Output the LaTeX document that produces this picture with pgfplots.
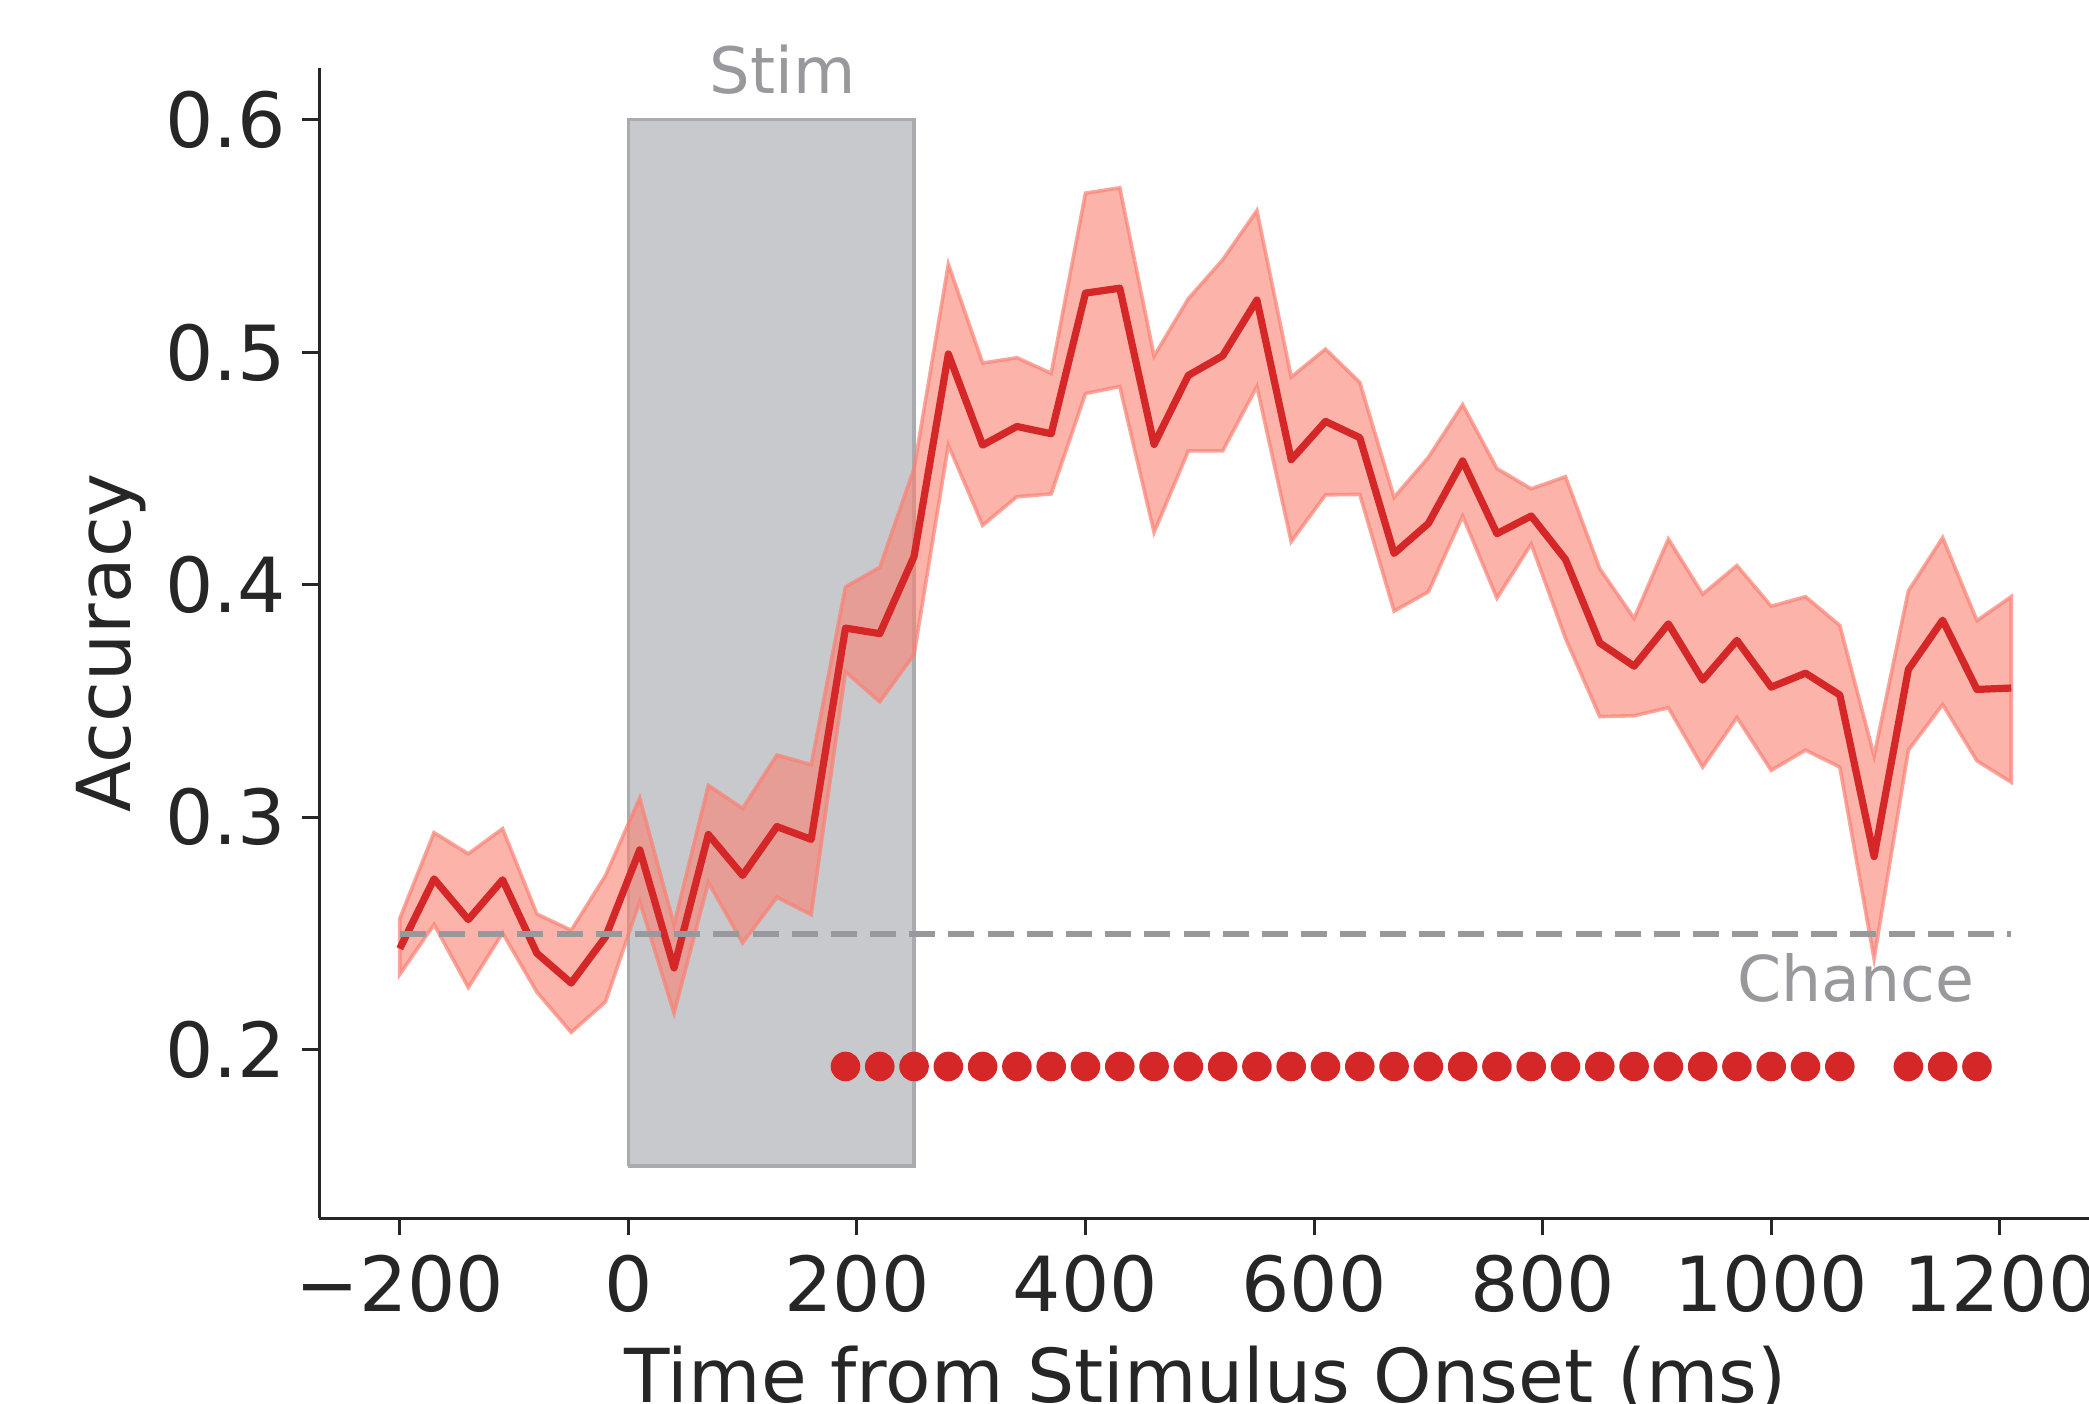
\documentclass[border=0pt]{standalone}
\usepackage{fontspec}
\setmainfont{DejaVu Sans}
\usepackage{pgfplots}
\pgfplotsset{compat=1.18}
\usepgfplotslibrary{fillbetween}
\usepackage{pgfplotstable}
\definecolor{txt}{RGB}{38,38,38}
\definecolor{accred}{RGB}{214,39,40}
\definecolor{ci}{RGB}{250,128,114}
\definecolor{stimfill}{RGB}{200,201,204}
\definecolor{stimedge}{RGB}{170,171,174}
\definecolor{annot}{RGB}{152,152,157}

\pgfplotstableread{
t mean lo hi
-200 0.2435 0.2324 0.2564
-170 0.2735 0.2539 0.2934
-140 0.2560 0.2268 0.2843
-110 0.2731 0.2502 0.2951
-80 0.2415 0.2248 0.2584
-50 0.2287 0.2075 0.2514
-20 0.2485 0.2206 0.2749
10 0.2860 0.2638 0.3083
40 0.2352 0.2157 0.2539
70 0.2926 0.2720 0.3137
100 0.2750 0.2460 0.3038
130 0.2960 0.2656 0.3268
160 0.2905 0.2581 0.3226
190 0.3814 0.3626 0.3991
220 0.3790 0.3497 0.4075
250 0.4122 0.3700 0.4500
280 0.4993 0.4601 0.5379
310 0.4601 0.4256 0.4954
340 0.4681 0.4379 0.4977
370 0.4650 0.4391 0.4910
400 0.5255 0.4823 0.5685
430 0.5276 0.4853 0.5708
460 0.4604 0.4226 0.4984
490 0.4901 0.4576 0.5231
520 0.4985 0.4576 0.5398
550 0.5225 0.4853 0.5610
580 0.4538 0.4186 0.4894
610 0.4703 0.4387 0.5014
640 0.4633 0.4389 0.4871
670 0.4135 0.3887 0.4376
700 0.4264 0.3970 0.4548
730 0.4533 0.4296 0.4775
760 0.4220 0.3943 0.4500
790 0.4296 0.4176 0.4413
820 0.4109 0.3770 0.4465
850 0.3750 0.3433 0.4069
880 0.3650 0.3437 0.3856
910 0.3832 0.3471 0.4197
940 0.3590 0.3216 0.3960
970 0.3761 0.3429 0.4083
1000 0.3560 0.3202 0.3908
1030 0.3620 0.3289 0.3949
1060 0.3526 0.3216 0.3825
1090 0.2831 0.2391 0.3264
1120 0.3636 0.3289 0.3974
1150 0.3848 0.3485 0.4203
1180 0.3550 0.3243 0.3846
1210 0.3556 0.3151 0.3949
}\acc

\pgfplotstableread{
t y
190 0.1928
220 0.1928
250 0.1928
280 0.1928
310 0.1928
340 0.1928
370 0.1928
400 0.1928
430 0.1928
460 0.1928
490 0.1928
520 0.1928
550 0.1928
580 0.1928
610 0.1928
640 0.1928
670 0.1928
700 0.1928
730 0.1928
760 0.1928
790 0.1928
820 0.1928
850 0.1928
880 0.1928
910 0.1928
940 0.1928
970 0.1928
1000 0.1928
1030 0.1928
1060 0.1928
1120 0.1928
1150 0.1928
1180 0.1928
}\sig

\begin{document}
\begin{tikzpicture}
\begin{axis}[
  scale only axis, width=443.2pt, height=287.7pt,
  xmin=-270.5, xmax=1280.5, ymin=0.1275, ymax=0.6225,
  axis lines*=left,
  axis line style={txt, line width=0.75pt, -},
  tick align=outside, major tick length=4.3pt,
  tick style={txt, line width=0.75pt},
  xtick={-200,0,200,400,600,800,1000,1200},
  xticklabels={−200,0,200,400,600,800,1000,1200},
  ytick={0.2,0.3,0.4,0.5,0.6},
  yticklabels={0.2,0.3,0.4,0.5,0.6},
  tick label style={font=\fontsize{19}{23}\selectfont, text=txt, inner sep=0pt},
  xticklabel style={anchor=base, yshift=-19pt},
  yticklabel style={anchor=east, xshift=-3.75pt},
  xlabel={Time from Stimulus Onset (ms)},
  ylabel={Accuracy},
  every axis x label/.style={at={(axis description cs:0.5,-0.1603)}, anchor=base, font=\fontsize{18.6}{23}\selectfont, text=txt},
  every axis y label/.style={at={(axis description cs:-0.1067,0.5)}, anchor=base, rotate=90, font=\fontsize{18.6}{23}\selectfont, text=txt},
  clip=false,
]
\addplot[fill=stimfill, draw=stimedge, line width=0.8pt] coordinates {(0,0.15) (250,0.15) (250,0.6) (0,0.6) (0,0.15)};
\addplot[draw=none, name path=hi, forget plot] table[x=t, y=hi] {\acc};
\addplot[draw=none, name path=lo, forget plot] table[x=t, y=lo] {\acc};
\addplot[fill=ci, fill opacity=0.6, draw=ci, draw opacity=0.7, line width=0.9pt] fill between[of=hi and lo, on layer=main];
\addplot[accred, line width=1.8pt, line join=round] table[x=t, y=mean] {\acc};
\addplot[annot, line width=1.5pt, dash pattern=on 6.5pt off 3.3pt] coordinates {(-200,0.25) (1210,0.25)};
\addplot[only marks, mark=*, mark size=3.5pt, accred, mark options={draw=none, fill=accred}] table[x=t, y=y] {\sig};
\node[anchor=base, text=annot, font=\fontsize{16}{20}\selectfont] at (axis cs:135,0.6114) {Stim};
\node[anchor=base east, text=annot, font=\fontsize{15.8}{20}\selectfont] at (axis cs:1190,0.2207) {Chance};
\end{axis}
\pgfresetboundingbox
\path[use as bounding box] (-79.8pt,-46.4pt) rectangle (442.5pt,304.6pt);
\end{tikzpicture}
\end{document}
